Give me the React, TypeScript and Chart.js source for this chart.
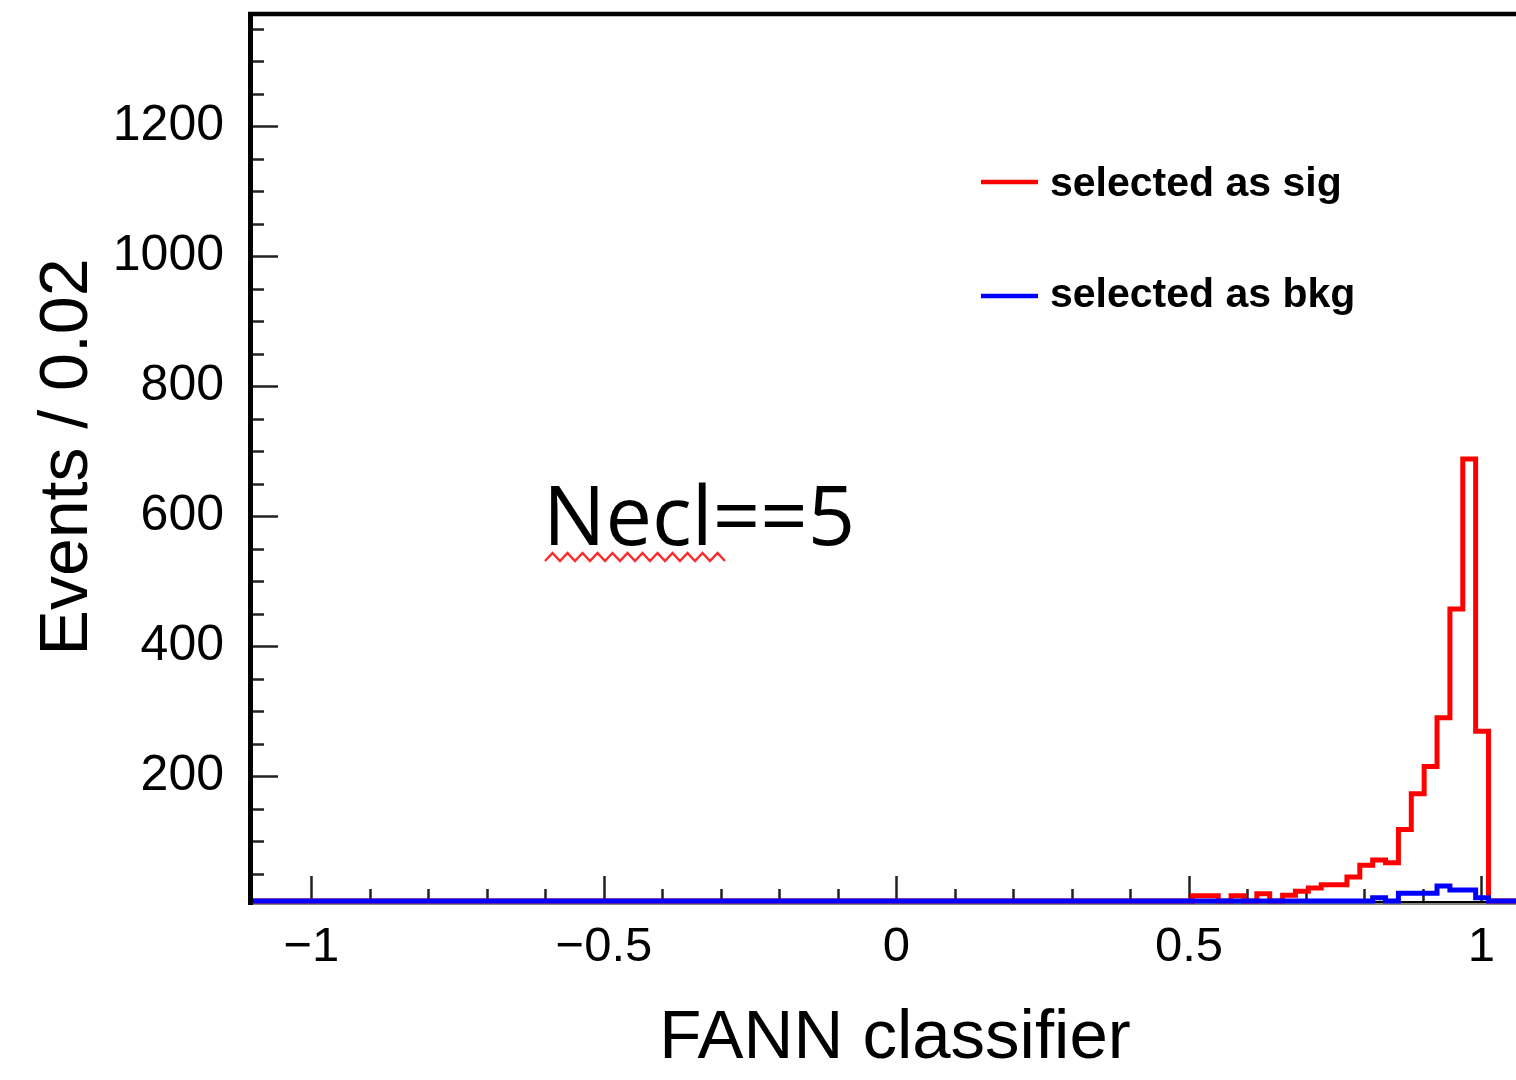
import React, { useEffect, useRef } from "react";
import { Chart, registerables } from "chart.js";

Chart.register(...registerables);

// Histogram binning (100 bins of 0.022 from -1.1 to 1.1)
const BIN_LOW = -1.1;
const BIN_WIDTH = 0.022;

// "selected as sig" counts per bin
const SIG_COUNTS = [
  0, 0, 0, 0, 0, 0, 0, 0, 0, 0,
  0, 0, 0, 0, 0, 0, 0, 0, 0, 0,
  0, 0, 0, 0, 0, 0, 0, 0, 0, 0,
  0, 0, 0, 0, 0, 0, 0, 0, 0, 0,
  0, 0, 0, 0, 0, 0, 0, 0, 0, 0,
  0, 0, 0, 0, 0, 0, 0, 0, 0, 0,
  0, 0, 0, 0, 0, 0, 0, 0, 0, 0,
  0, 0, 0, 16, 16, 0, 16, 0, 19, 0,
  17, 23, 28, 33, 33, 45, 63, 71, 67, 118,
  173, 215, 290, 457, 688, 269, 0, 0, 0, 0,
];

// "selected as bkg" counts per bin
const BKG_COUNTS = [
  0, 0, 0, 0, 0, 0, 0, 0, 0, 0,
  0, 0, 0, 0, 0, 0, 0, 0, 0, 0,
  0, 0, 0, 0, 0, 0, 0, 0, 0, 0,
  0, 0, 0, 0, 0, 0, 0, 0, 0, 0,
  0, 0, 0, 0, 0, 0, 0, 0, 0, 0,
  0, 0, 0, 0, 0, 0, 0, 0, 0, 0,
  0, 0, 0, 0, 0, 0, 0, 0, 0, 0,
  0, 0, 0, 0, 0, 0, 0, 0, 0, 0,
  0, 0, 0, 0, 0, 0, 0, 13, 0, 20,
  20, 20, 31, 25, 25, 13, 0, 0, 0, 0,
];

const X_RANGE = [-1.105, 1.1];
const Y_RANGE = [8, 1374];
const X_TICKS = [-1, -0.5, 0, 0.5, 1];
const X_MINOR_TICKS = [
  -0.9, -0.8, -0.7, -0.6, -0.4, -0.3, -0.2, -0.1,
  0.1, 0.2, 0.3, 0.4, 0.6, 0.7, 0.8, 0.9, 1.1,
];
const Y_TICKS = [200, 400, 600, 800, 1000, 1200];
const Y_MINOR_TICKS = [
  50, 100, 150, 250, 300, 350, 450, 500, 550, 650, 700, 750, 850, 900, 950,
  1050, 1100, 1150, 1250, 1300, 1350,
];
const LEGEND_LABELS = ["selected as sig", "selected as bkg"];
const SERIES_COLORS = ["#ff0000", "#0000ff"];
const X_TITLE = "FANN classifier";
const Y_TITLE = "Events / 0.02";
const ANNOTATION = "Necl==5";

const FONT = '"Liberation Sans", Arial, Helvetica, sans-serif';

const CANVAS_W = 1560;
const CANVAS_H = 1080;

const decorPlugin = {
  id: "rootDecor",
  beforeDatasetsDraw(chart: any) {
    const { ctx, chartArea: a } = chart;
    ctx.save();
    // bevel / shadow below frame bottom
    ctx.strokeStyle = "#86867a";
    ctx.lineWidth = 2;
    ctx.beginPath();
    ctx.moveTo(a.left, a.bottom + 3);
    ctx.lineTo(a.right, a.bottom + 3);
    ctx.stroke();
    // bottom axis line
    ctx.strokeStyle = "#000";
    ctx.lineWidth = 2;
    ctx.beginPath();
    ctx.moveTo(a.left, a.bottom + 1);
    ctx.lineTo(a.right, a.bottom + 1);
    ctx.stroke();
    // x ticks (pointing up, inside the frame)
    const xs = chart.scales.x;
    ctx.lineWidth = 2.5;
    ctx.strokeStyle = "#222";
    ctx.beginPath();
    X_TICKS.forEach((v) => {
      const px = Math.round(xs.getPixelForValue(v)) + 0.5;
      ctx.moveTo(px, a.bottom);
      ctx.lineTo(px, a.bottom - 25);
    });
    X_MINOR_TICKS.forEach((v) => {
      const px = Math.round(xs.getPixelForValue(v)) + 0.5;
      ctx.moveTo(px, a.bottom);
      ctx.lineTo(px, a.bottom - 12);
    });
    ctx.stroke();
    ctx.restore();
  },
  afterDatasetsDraw(chart: any) {
    const { ctx, chartArea: a } = chart;
    const ys = chart.scales.y;
    ctx.save();
    // y ticks (pointing right, inside the frame)
    ctx.strokeStyle = "#222";
    ctx.lineWidth = 2.5;
    ctx.beginPath();
    Y_TICKS.forEach((v) => {
      const py = Math.round(ys.getPixelForValue(v)) + 0.5;
      ctx.moveTo(a.left, py);
      ctx.lineTo(a.left + 28, py);
    });
    Y_MINOR_TICKS.forEach((v) => {
      const py = Math.round(ys.getPixelForValue(v)) + 0.5;
      ctx.moveTo(a.left, py);
      ctx.lineTo(a.left + 14, py);
    });
    ctx.stroke();

    // frame: left and top
    ctx.strokeStyle = "#000";
    ctx.lineWidth = 5;
    ctx.beginPath();
    ctx.moveTo(a.left + 0.5, a.top - 1);
    ctx.lineTo(a.left + 0.5, a.bottom + 4);
    ctx.stroke();
    ctx.lineWidth = 4.5;
    ctx.beginPath();
    ctx.moveTo(a.left - 2, a.top + 1);
    ctx.lineTo(a.right, a.top + 1);
    ctx.stroke();
    ctx.beginPath();
    ctx.moveTo(a.right, a.top - 1);
    ctx.lineTo(a.right, a.bottom + 2);
    ctx.stroke();

    // legend
    const legendY = [182, 296];
    const textY = [196, 307];
    LEGEND_LABELS.forEach((label, i) => {
      ctx.strokeStyle = SERIES_COLORS[i];
      ctx.lineWidth = 4.5;
      ctx.beginPath();
      ctx.moveTo(981, legendY[i]);
      ctx.lineTo(1038, legendY[i]);
      ctx.stroke();
      ctx.fillStyle = "#000";
      ctx.font = `bold 41px ${FONT}`;
      ctx.textAlign = "left";
      ctx.textBaseline = "alphabetic";
      ctx.fillText(label, 1050, textY[i]);
    });

    // annotation text
    ctx.fillStyle = "#000";
    ctx.font = '83px "Open Sans", "Noto Sans", sans-serif';
    ctx.textAlign = "left";
    ctx.textBaseline = "alphabetic";
    ctx.fillText(ANNOTATION, 543, 545);

    // red spell-check squiggle under "Necl"
    ctx.strokeStyle = "#ff2a2a";
    ctx.lineWidth = 2.5;
    ctx.beginPath();
    const x0 = 545;
    const x1 = 728;
    const period = 15;
    let up = true;
    ctx.moveTo(x0, 561);
    for (let x = x0 + period / 2; x <= x1 + 0.1; x += period / 2) {
      ctx.lineTo(x, up ? 553 : 561);
      up = !up;
    }
    ctx.stroke();
    ctx.restore();
  },
};

function toPoints(counts: number[]) {
  const pts = counts.map((v, i) => ({
    x: BIN_LOW + i * BIN_WIDTH,
    y: Math.max(v, Y_RANGE[0]),
  }));
  pts.push({
    x: BIN_LOW + counts.length * BIN_WIDTH,
    y: Math.max(counts[counts.length - 1], Y_RANGE[0]),
  });
  return pts;
}

function fmt(v: number) {
  return String(v).replace("-", "\u2212");
}

export default function App() {
  const ref = useRef<HTMLCanvasElement>(null);

  useEffect(() => {
    const canvas = ref.current;
    if (!canvas) return;
    const chart = new Chart(canvas, {
      type: "line",
      data: {
        datasets: [
          {
            label: LEGEND_LABELS[0],
            data: toPoints(SIG_COUNTS),
            borderColor: SERIES_COLORS[0],
            backgroundColor: SERIES_COLORS[0],
            borderWidth: 5,
            stepped: true,
            pointRadius: 0,
            fill: false,
            tension: 0,
            borderJoinStyle: "miter",
            order: 2,
            clip: 6,
          },
          {
            label: LEGEND_LABELS[1],
            data: toPoints(BKG_COUNTS),
            borderColor: SERIES_COLORS[1],
            backgroundColor: SERIES_COLORS[1],
            borderWidth: 5,
            stepped: true,
            pointRadius: 0,
            fill: false,
            tension: 0,
            borderJoinStyle: "miter",
            order: 1,
            clip: 6,
          },
        ],
      } as any,
      options: {
        responsive: false,
        animation: false,
        devicePixelRatio: 1,
        events: [],
        layout: { padding: { left: 0, top: 13, right: 20, bottom: 0 } },
        plugins: {
          legend: { display: false },
          tooltip: { enabled: false },
        },
        scales: {
          x: {
            type: "linear",
            min: X_RANGE[0],
            max: X_RANGE[1],
            grid: { display: false, drawTicks: false },
            border: { display: false },
            afterBuildTicks: (s: any) => {
              s.ticks = X_TICKS.map((v) => ({ value: v }));
            },
            afterFit: (s: any) => {
              s.height = CANVAS_H - 901;
              s.paddingLeft = 0;
              s.paddingRight = 0;
            },
            ticks: {
              font: { family: FONT, size: 49 },
              color: "#000",
              padding: 17,
              maxRotation: 0,
              autoSkip: false,
              callback: (v: any) => fmt(Number(v)),
            },
            title: {
              display: true,
              text: X_TITLE,
              color: "#000",
              font: { family: FONT, size: 69 },
              padding: { top: 0, bottom: 0 },
            },
          },
          y: {
            type: "linear",
            min: Y_RANGE[0],
            max: Y_RANGE[1],
            grid: { display: false, drawTicks: false },
            border: { display: false },
            afterBuildTicks: (s: any) => {
              s.ticks = Y_TICKS.map((v) => ({ value: v }));
            },
            afterFit: (s: any) => {
              s.width = 250;
              s.paddingTop = 0;
              s.paddingBottom = 0;
            },
            ticks: {
              font: { family: FONT, size: 50 },
              color: "#000",
              padding: 26,
              autoSkip: false,
              callback: (v: any) => fmt(Number(v)),
            },
            title: {
              display: true,
              text: Y_TITLE,
              color: "#000",
              font: { family: FONT, size: 68 },
              padding: { top: 27, bottom: 0 },
            },
          },
        },
      } as any,
      plugins: [decorPlugin],
    });
    return () => chart.destroy();
  }, []);

  return (
    <div
      style={{
        position: "fixed",
        left: 0,
        top: 0,
        width: 1516,
        height: 1080,
        overflow: "hidden",
        background: "#fff",
      }}
    >
      <canvas
        ref={ref}
        width={CANVAS_W}
        height={CANVAS_H}
        style={{ display: "block", width: CANVAS_W, height: CANVAS_H }}
      />
    </div>
  );
}
